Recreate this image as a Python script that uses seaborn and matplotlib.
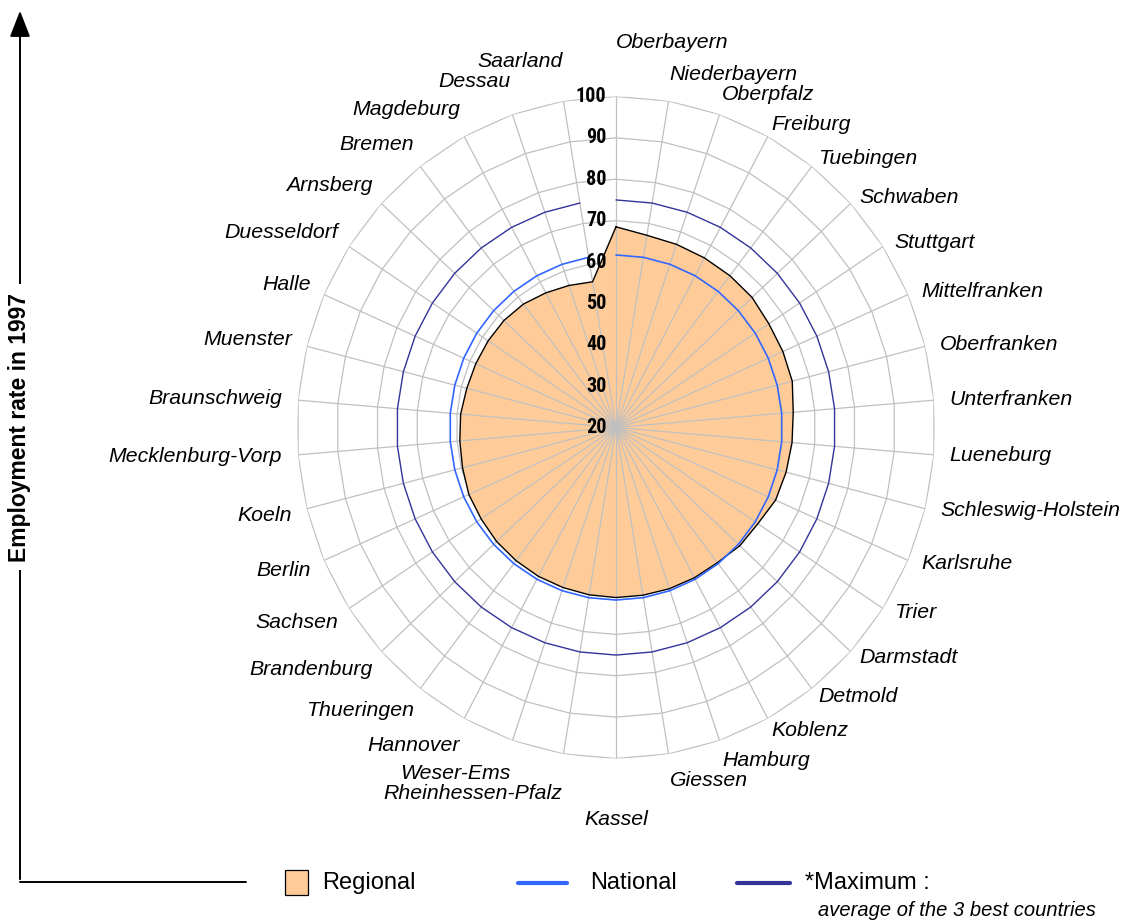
import numpy as np
import matplotlib
matplotlib.use('Agg')
import matplotlib.pyplot as plt
import seaborn as sns
from matplotlib.patches import Rectangle, FancyArrowPatch
from matplotlib.lines import Line2D

# regions, clockwise from the top
regions = ['Oberbayern', 'Niederbayern', 'Oberpfalz', 'Freiburg', 'Tuebingen', 'Schwaben',
           'Stuttgart', 'Mittelfranken', 'Oberfranken', 'Unterfranken', 'Lueneburg',
           'Schleswig-Holstein', 'Karlsruhe', 'Trier', 'Darmstadt', 'Detmold', 'Koblenz',
           'Hamburg', 'Giessen', 'Kassel', 'Rheinhessen-Pfalz', 'Weser-Ems', 'Hannover',
           'Thueringen', 'Brandenburg', 'Sachsen', 'Berlin', 'Koeln', 'Mecklenburg-Vorp',
           'Braunschweig', 'Muenster', 'Halle', 'Duesseldorf', 'Arnsberg', 'Bremen',
           'Magdeburg', 'Dessau', 'Saarland']
regional = [68.5, 67.1, 66.8, 66.6, 66.5, 66.4, 65.8, 65.7, 65.6, 64.6, 64.3, 64.0, 63.7,
            62.5, 62.2, 61.4, 61.3, 61.2, 61.1, 61.1, 61.0, 60.9, 60.9, 60.8, 60.7, 60.4,
            60.3, 59.7, 59.3, 59.1, 58.6, 58.4, 58.3, 58.2, 57.8, 57.0, 56.3, 55.7]
national = 61.7
maximum = 75.0
ring_ticks = [20, 30, 40, 50, 60, 70, 80, 90, 100]

sns.set_theme(style='white')
plt.rcParams['font.family'] = ['Liberation Sans', 'DejaVu Sans']
plt.rcParams['text.color'] = 'black'

W, H = 1123, 922
n = len(regions)
theta = np.arange(n) * 2 * np.pi / n
theta_c = np.append(theta, theta[0])
reg_c = np.append(regional, regional[0])

grid_col = '#c0c0c0'
fill_col = '#FFCC99'
nat_col = '#3366FF'
max_col = '#333399'

fig = plt.figure(figsize=(W / 100, H / 100), dpi=100)
cx, cy, rx, ry = 616, 427.5, 319, 331
ax = fig.add_axes([(cx - rx) / W, (H - cy - ry) / H, 2 * rx / W, 2 * ry / H], projection='polar')
ax.set_aspect('auto')
ax.set_theta_zero_location('N')
ax.set_theta_direction(-1)
ax.grid(False)
ax.spines['polar'].set_visible(False)
ax.set_facecolor('white')

# polygon rings (behind the fill)
for v in ring_ticks[1:]:
    ax.plot(theta_c, [v] * (n + 1), color=grid_col, lw=0.9, zorder=1)

ax.fill(theta_c, reg_c, facecolor=fill_col, edgecolor='none', zorder=2)

# spokes drawn over the fill
for t in theta:
    ax.plot([t, t], [ring_ticks[0], ring_ticks[-1]], color=grid_col, lw=0.9, zorder=3)

ax.plot(theta_c, reg_c, color='black', lw=1.0, zorder=4)
sns.lineplot(x=theta_c, y=[national] * (n + 1), sort=False, color=nat_col, lw=1.2,
             ax=ax, zorder=5, legend=False)
sns.lineplot(x=theta_c, y=[maximum] * (n + 1), sort=False, color=max_col, lw=1.0,
             ax=ax, zorder=5, legend=False)

ax.set_ylim(ring_ticks[0], ring_ticks[-1])
ax.set_xticks([])
ax.set_yticks([])
ax.set_xlabel('')
ax.set_ylabel('')

# radial scale labels along the top spoke
for v in ring_ticks:
    ax.annotate(str(v), xy=(0, v), xytext=(-7, 0), textcoords='offset points',
                ha='right', va='center', fontsize=14.5, fontweight='bold',
                fontstretch='condensed', color='black',
                family=['Liberation Sans Narrow', 'Roboto Condensed', 'DejaVu Sans'], zorder=6)

# category labels around the outer ring
pt = 72 / 100
for name, t in zip(regions, theta):
    s, c = np.sin(t), np.cos(t)
    vertical = abs(s) < 1e-6
    if vertical:
        ha = 'left' if c > 0 else 'center'
    else:
        ha = 'left' if s > 0 else 'right'
    dx = s * (6 + 10 * s ** 2)
    if s >= 0:
        dy = c * (8 + 22 * c ** 10)
    else:
        dy = c * (26 + 16 * c ** 10)
    if vertical:
        dy += (24 if c > 0 else 31) * np.sign(c)
    ax.annotate(name, xy=(t, 100), xytext=(dx * pt, dy * pt), textcoords='offset points',
                ha=ha, va='center', fontsize=15.3, fontstyle='italic', color='black',
                annotation_clip=False)

# axis frame with arrow
def fx(x):
    return x / W

def fy(y):
    return 1 - y / H

fig.add_artist(FancyArrowPatch((fx(20), fy(882)), (fx(20), fy(8)), transform=fig.transFigure,
                               arrowstyle='-|>,head_length=0.9,head_width=0.35',
                               mutation_scale=18, color='black', lw=1.4))
fig.add_artist(Line2D([fx(20), fx(246)], [fy(882), fy(882)], transform=fig.transFigure,
                      color='black', lw=1.4))
fig.text(fx(20), fy(427), 'Employment rate in 1997', rotation=90, ha='center', va='center',
         fontsize=16.5, fontweight='bold',
         bbox=dict(facecolor='white', edgecolor='none', pad=6))

# legend
fig.add_artist(Rectangle((fx(285), fy(895)), (308 - 285) / W, 25 / H, transform=fig.transFigure,
                         facecolor=fill_col, edgecolor='black', lw=0.9))
fig.text(fx(322), fy(883), 'Regional', ha='left', va='center', fontsize=17)
fig.add_artist(Line2D([fx(518), fx(567)], [fy(883), fy(883)], transform=fig.transFigure,
                      color=nat_col, lw=3))
fig.text(fx(590), fy(883), 'National', ha='left', va='center', fontsize=17)
fig.add_artist(Line2D([fx(737), fx(790)], [fy(883), fy(883)], transform=fig.transFigure,
                      color=max_col, lw=3))
fig.text(fx(805), fy(883), '*Maximum :', ha='left', va='center', fontsize=17)
fig.text(fx(818), fy(910), 'average of the 3 best countries', ha='left', va='center',
         fontsize=14.5, fontstyle='italic')

fig.savefig('out.png', dpi=100)
